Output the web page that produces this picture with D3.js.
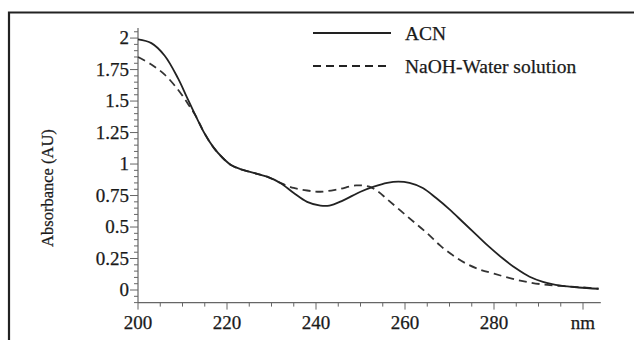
<!DOCTYPE html>
<html>
<head>
<meta charset="utf-8">
<script src="https://cdn.jsdelivr.net/npm/d3@7"></script>
<style>
  body { margin: 0; background: #fff; }
  svg { display: block; }
  text { font-family: "Liberation Serif", "Times New Roman", serif; fill: #1a1a1a; stroke: #1a1a1a; stroke-width: 0.25; }
</style>
</head>
<body>
<svg id="chart" width="634" height="340"></svg>
<script>
// wavelength (nm) / absorbance (AU)
const acnNm = [200, 203, 206, 209, 211, 213, 215, 217, 219, 221, 223, 226, 229, 232, 235, 238, 241, 243, 246, 250, 253, 256, 258.5, 261, 264, 267, 270, 273, 276, 279, 282, 285, 288, 291, 295, 299, 303.5]
const acnAbs = [1.99, 1.96, 1.86, 1.68, 1.53, 1.38, 1.24, 1.13, 1.05, 0.99, 0.96, 0.93, 0.90, 0.85, 0.77, 0.70, 0.67, 0.67, 0.71, 0.78, 0.82, 0.85, 0.86, 0.85, 0.81, 0.73, 0.64, 0.54, 0.44, 0.34, 0.25, 0.17, 0.105, 0.065, 0.035, 0.02, 0.01]
const naohNm = [200, 203, 206, 209, 211, 213, 215, 217, 219, 221, 223, 226, 229, 232, 235, 238, 241, 245, 249, 252, 254, 256, 259, 262, 265, 268, 271, 274, 277, 280, 284, 288, 292, 296, 300, 303.5]
const naohAbs = [1.85, 1.79, 1.71, 1.59, 1.49, 1.38, 1.24, 1.13, 1.05, 0.99, 0.96, 0.93, 0.90, 0.85, 0.81, 0.79, 0.78, 0.80, 0.83, 0.82, 0.78, 0.72, 0.63, 0.54, 0.45, 0.35, 0.27, 0.205, 0.16, 0.13, 0.09, 0.06, 0.04, 0.03, 0.02, 0.01]

const xTicks = [200, 220, 240, 260, 280, 300]
const xTickLabels = ["200", "220", "240", "260", "280", "nm"]
const yTicks = [0, 0.25, 0.5, 0.75, 1, 1.25, 1.5, 1.75, 2]
const seriesNames = ["ACN", "NaOH-Water solution"]

const svg = d3.select("#chart")

const x = d3.scaleLinear().domain([200, 304]).range([138, 600.8])
const y = d3.scaleLinear().domain([-0.1, 2.08]).range([302.6, 28])

// frame (top + left edge)
svg.append("path")
  .attr("d", "M9,340 V12.5 H634")
  .attr("fill", "none")
  .attr("stroke", "#222")
  .attr("stroke-width", 2.2)

// x axis
const xAxis = svg.append("g").attr("transform", `translate(0,${y(-0.1)})`)
xAxis.append("line")
  .attr("x1", x(200)).attr("x2", x(304))
  .attr("stroke", "#666").attr("stroke-width", 1.2)
xAxis.selectAll("line.minor")
  .data(d3.range(205, 304, 5).filter(d => d % 20 !== 0))
  .join("line")
  .attr("class", "minor")
  .attr("x1", d => x(d)).attr("x2", d => x(d))
  .attr("y1", 0).attr("y2", 4)
  .attr("stroke", "#666")
xAxis.selectAll("line.major")
  .data(xTicks)
  .join("line")
  .attr("class", "major")
  .attr("x1", d => x(d)).attr("x2", d => x(d))
  .attr("y1", 0).attr("y2", 7)
  .attr("stroke", "#666")
xAxis.selectAll("text")
  .data(xTicks)
  .join("text")
  .attr("x", d => x(d))
  .attr("y", 26)
  .attr("text-anchor", "middle")
  .attr("font-size", 19)
  .text((d, i) => xTickLabels[i])

// y axis
const yAxis = svg.append("g").attr("transform", `translate(${x(200)},0)`)
yAxis.append("line")
  .attr("y1", y(-0.1)).attr("y2", y(2.08))
  .attr("stroke", "#666").attr("stroke-width", 1.2)
yAxis.selectAll("line.minor")
  .data(d3.range(-2, 42).map(i => i * 0.05).filter(d => Math.abs(d * 4 - Math.round(d * 4)) > 1e-6))
  .join("line")
  .attr("class", "minor")
  .attr("x1", -4).attr("x2", 0)
  .attr("y1", d => y(d)).attr("y2", d => y(d))
  .attr("stroke", "#666")
yAxis.selectAll("line.major")
  .data(yTicks)
  .join("line")
  .attr("class", "major")
  .attr("x1", -8).attr("x2", 0)
  .attr("y1", d => y(d)).attr("y2", d => y(d))
  .attr("stroke", "#666")
yAxis.selectAll("text")
  .data(yTicks)
  .join("text")
  .attr("x", -9)
  .attr("y", d => y(d))
  .attr("dy", "0.33em")
  .attr("text-anchor", "end")
  .attr("font-size", 19)
  .text(d => d3.format("")(d))

svg.append("text")
  .attr("transform", `translate(53,${y(1.0) + 24}) rotate(-90)`)
  .attr("text-anchor", "middle")
  .attr("font-size", 16.5)
  .text("Absorbance (AU)")

// curves
const line = d3.line()
  .x(d => x(d[0]))
  .y(d => y(d[1]))
  .curve(d3.curveCatmullRom.alpha(0.5))

svg.append("path")
  .datum(d3.zip(naohNm, naohAbs))
  .attr("d", line)
  .attr("fill", "none")
  .attr("stroke", "#333")
  .attr("stroke-width", 1.8)
  .attr("stroke-dasharray", "8,5")

svg.append("path")
  .datum(d3.zip(acnNm, acnAbs))
  .attr("d", line)
  .attr("fill", "none")
  .attr("stroke", "#222")
  .attr("stroke-width", 1.8)

// legend
const legend = svg.append("g")
const dashes = [null, "8,5"]
seriesNames.forEach((name, i) => {
  const ly = 33 + i * 33
  legend.append("line")
    .attr("x1", 313).attr("x2", 391)
    .attr("y1", ly).attr("y2", ly)
    .attr("stroke", "#222")
    .attr("stroke-width", 1.8)
    .attr("stroke-dasharray", dashes[i])
  legend.append("text")
    .attr("x", 405)
    .attr("y", ly)
    .attr("dy", "0.35em")
    .attr("font-size", 19.5)
    .text(name)
})
</script>
</body>
</html>
